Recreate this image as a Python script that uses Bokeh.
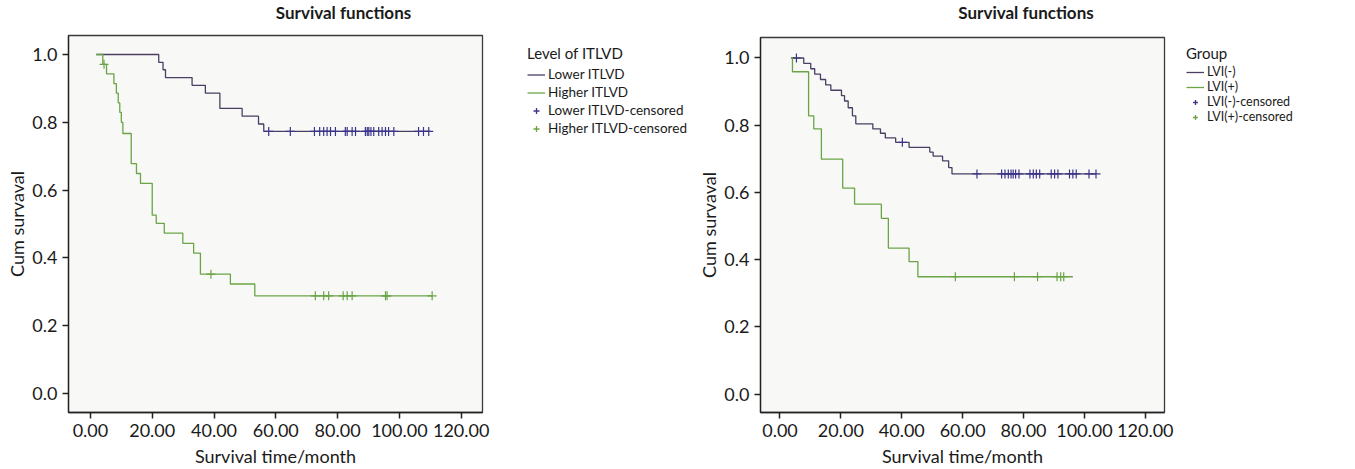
import numpy as np
from bokeh.plotting import figure
from bokeh.models import Legend, LegendItem, Range1d, FixedTicker, PrintfTickFormatter, Label
from bokeh.layouts import row, column
from bokeh.embed import file_html
from bokeh.resources import INLINE

# ---------------- data ----------------
x_ticks = [0, 20, 40, 60, 80, 100, 120]
y_ticks = [0.0, 0.2, 0.4, 0.6, 0.8, 1.0]

# Left panel: Level of ITLVD
itlvd_lower_time = [1.9, 22.1, 23.5, 24.3, 32.9, 37.2, 41.9, 49.1, 54.4, 56.1, 110.0]
itlvd_lower_surv = [1.0, 0.977, 0.955, 0.932, 0.909, 0.886, 0.841, 0.818, 0.795, 0.773, 0.773]
itlvd_lower_cens = [57.7, 64.7, 72.5, 74.2, 75.5, 76.6, 77.7, 79.3, 82.5, 83.1, 84.7, 85.8,
                    89.0, 89.6, 90.1, 90.8, 91.7, 93.3, 94.4, 95.5, 96.5, 98.2, 106.2, 107.8, 109.5]

itlvd_higher_time = [1.9, 4.0, 5.2, 7.6, 8.4, 9.0, 9.5, 10.0, 10.5, 13.2, 14.9, 16.2, 20.0,
                     21.3, 23.9, 29.9, 33.4, 35.6, 45.3, 53.2, 110.6]
itlvd_higher_surv = [1.0, 0.971, 0.943, 0.914, 0.886, 0.857, 0.829, 0.800, 0.767, 0.678, 0.649,
                     0.620, 0.526, 0.502, 0.473, 0.443, 0.414, 0.352, 0.323, 0.288, 0.288]
itlvd_higher_cens = [4.4, 39.0, 72.8, 75.5, 77.1, 81.8, 83.1, 84.7, 95.5, 96.0, 110.6]

# Right panel: Group (LVI)
lvi_neg_time = [3.6, 7.8, 10.1, 11.4, 13.3, 15.0, 16.7, 20.2, 21.2, 22.4, 23.8, 24.9, 30.5,
                33.0, 34.6, 38.0, 42.4, 49.2, 50.3, 53.4, 55.4, 56.5, 103.8]
lvi_neg_surv = [1.0, 0.984, 0.968, 0.952, 0.936, 0.920, 0.904, 0.888, 0.872, 0.852, 0.828, 0.804,
                0.789, 0.776, 0.762, 0.749, 0.734, 0.720, 0.708, 0.694, 0.674, 0.655, 0.655]
lvi_neg_cens = [5.4, 40.2, 64.7, 72.8, 73.9, 75.0, 75.9, 76.6, 77.4, 78.5, 82.1, 83.2, 84.2,
                85.3, 89.1, 90.2, 91.3, 95.1, 96.2, 97.3, 101.5, 103.8]

lvi_pos_time = [3.6, 4.1, 9.4, 11.1, 13.6, 20.6, 24.5, 33.3, 35.6, 42.4, 45.3, 96.2]
lvi_pos_surv = [1.0, 0.959, 0.828, 0.789, 0.699, 0.613, 0.565, 0.523, 0.434, 0.394, 0.349, 0.349]
lvi_pos_cens = [57.6, 77.0, 84.6, 91.0, 92.2, 93.2]

DARK_LINE = "#4a3f63"
DARK_CENS = "#3b358a"
GREEN_LINE = "#6aa446"
GREEN_CENS = "#6aa446"
FONT = "Lato"
TXT = "#1a1a1a"
H = 469


def surv_at(times, survs, t):
    idx = np.searchsorted(np.asarray(times), np.asarray(t), side="right") - 1
    return np.asarray(survs)[np.clip(idx, 0, None)]


def blank_fig(width, height, **kw):
    f = figure(width=width, height=height, output_backend="svg", toolbar_location=None,
               x_axis_location=None, y_axis_location=None, **kw)
    f.outline_line_color = None
    f.background_fill_color = "white"
    f.border_fill_color = "white"
    f.xgrid.visible = False
    f.ygrid.visible = False
    return f


def make_title(width, height, cx, cy_top, text):
    t = blank_fig(width, height, x_range=Range1d(0, 1), y_range=Range1d(0, 1),
                  min_border_left=0, min_border_right=0, min_border_top=0, min_border_bottom=0)
    t.add_layout(Label(x=cx, y=height - cy_top, x_units="screen", y_units="screen", text=text,
                       text_align="center", text_baseline="middle", text_font=FONT,
                       text_font_size="17px", text_font_style="bold", text_color=TXT))
    return t


def make_panel(width, height, b_left, b_right, b_top, b_bottom, xr, yr, groups):
    p = figure(width=width, height=height, x_range=Range1d(*xr), y_range=Range1d(*yr),
               output_backend="svg", toolbar_location=None,
               min_border_left=b_left, min_border_right=b_right,
               min_border_top=b_top, min_border_bottom=b_bottom)
    p.background_fill_color = "#f8f8f6"
    p.border_fill_color = "white"
    p.outline_line_color = "#3a3a3a"
    p.outline_line_width = 1.3
    p.xgrid.visible = False
    p.ygrid.visible = False

    for ax in (p.xaxis[0], p.yaxis[0]):
        ax.axis_line_color = "#222222"
        ax.axis_line_width = 1.3
        ax.major_tick_line_color = "#222222"
        ax.major_tick_line_width = 1.5
        ax.major_tick_out = 6
        ax.major_tick_in = 0
        ax.minor_tick_line_color = None
        ax.major_label_text_font = FONT
        ax.major_label_text_font_size = "18px"
        ax.major_label_text_color = TXT
        ax.axis_label_text_font = FONT
        ax.axis_label_text_font_size = "18px"
        ax.axis_label_text_font_style = "normal"
        ax.axis_label_text_color = TXT

    p.xaxis.ticker = FixedTicker(ticks=x_ticks)
    p.xaxis.formatter = PrintfTickFormatter(format="%.2f")
    p.xaxis.axis_label = "Survival time/month"
    p.xaxis.major_label_standoff = 5
    p.xaxis.axis_label_standoff = 5
    p.yaxis.ticker = FixedTicker(ticks=y_ticks)
    p.yaxis.formatter = PrintfTickFormatter(format="%.1f")
    p.yaxis.axis_label = "Cum survaval"
    p.yaxis.major_label_standoff = 5
    p.yaxis.axis_label_standoff = 1

    for name, times, survs, cens, lc, cc in groups:
        p.step(times, survs, mode="after", line_color=lc, line_width=1.3)
        p.scatter(cens, surv_at(times, survs, cens), marker="cross", size=9,
                  line_color=cc, line_width=1.2)
    return p


def make_legend(width, off_x, off_y, title, groups, font_size, row_h, row_spacing, t_standoff):
    # legend-only panel: the renderers hold the series but lie outside the visible ranges
    q = blank_fig(width, H, x_range=Range1d(1000, 1001), y_range=Range1d(0, 1),
                  min_border_left=off_x, min_border_top=off_y,
                  min_border_right=0, min_border_bottom=0)
    line_items, cens_items = [], []
    for name, times, survs, cens, lc, cc in groups:
        r = q.step(times, survs, mode="after", line_color=lc, line_width=1.3)
        c = q.scatter(cens, surv_at(times, survs, cens), marker="cross", size=9,
                      line_color=cc, line_width=1.3)
        line_items.append(LegendItem(label=name, renderers=[r]))
        cens_items.append(LegendItem(label=name + "-censored", renderers=[c]))
    legend = Legend(items=line_items + cens_items, title=title, location="top_left",
                    padding=0, margin=0, border_line_alpha=0, background_fill_alpha=0,
                    label_text_font=FONT, label_text_font_size=font_size,
                    label_text_color=TXT,
                    title_text_font=FONT, title_text_font_size="15px",
                    title_text_font_style="normal", title_text_color=TXT,
                    label_height=row_h, glyph_height=row_h, spacing=row_spacing,
                    glyph_width=18, label_standoff=3, title_standoff=t_standoff)
    q.add_layout(legend, "center")
    return q


itlvd_groups = [("Lower ITLVD", itlvd_lower_time, itlvd_lower_surv, itlvd_lower_cens,
                 DARK_LINE, DARK_CENS),
                ("Higher ITLVD", itlvd_higher_time, itlvd_higher_surv, itlvd_higher_cens,
                 GREEN_LINE, GREEN_CENS)]
lvi_groups = [("LVI(-)", lvi_neg_time, lvi_neg_surv, lvi_neg_cens, DARK_LINE, DARK_CENS),
              ("LVI(+)", lvi_pos_time, lvi_pos_surv, lvi_pos_cens, GREEN_LINE, GREEN_CENS)]

left_title = make_title(497, 33, 275, 12, "Survival functions")
left = make_panel(497, 436, 68, 15, 2, 56, (-7.1, 126.9), (-0.056, 1.056), itlvd_groups)
left_leg = make_legend(198, 30, 34, "Level of ITLVD", itlvd_groups, "13.5px", 15, 2, 4)

right_title = make_title(479, 35, 265.5, 12, "Survival functions")
right = make_panel(479, 434, 62, 10, 2, 57, (-6.4, 126.3), (-0.055, 1.061), lvi_groups)
right_leg = make_legend(181, 12, 44, "Group", lvi_groups, "12.5px", 12, 0, 2)

layout = row(column(left_title, left), left_leg, column(right_title, right), right_leg)
open("out.html", "w").write(file_html(layout, INLINE))
